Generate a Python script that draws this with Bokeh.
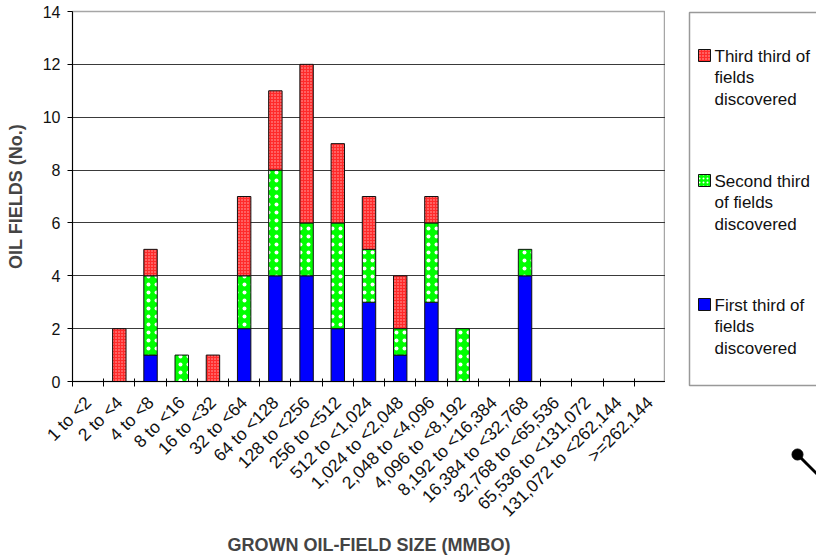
import math
from bokeh.plotting import figure
from bokeh.models import (ColumnDataSource, Range1d, FixedTicker, CustomJSTickFormatter)
from bokeh.core.properties import value
from bokeh.transform import stack
from bokeh.layouts import row
from bokeh.embed import file_html
from bokeh.resources import INLINE

# ---------------- data ----------------
categories = ["1 to <2", "2 to <4", "4 to <8", "8 to <16", "16 to <32", "32 to <64",
              "64 to <128", "128 to <256", "256 to <512", "512 to <1,024",
              "1,024 to <2,048", "2,048 to <4,096", "4,096 to <8,192",
              "8,192 to <16,384", "16,384 to <32,768", "32,768 to <65,536",
              "65,536 to <131,072", "131,072 to <262,144", ">=262,144"]
first_third = [0, 0, 1, 0, 0, 2, 4, 4, 2, 3, 1, 3, 0, 0, 4, 0, 0, 0, 0]
second_third = [0, 0, 3, 1, 0, 2, 4, 2, 4, 2, 1, 3, 2, 0, 1, 0, 0, 0, 0]
third_third = [0, 2, 1, 0, 1, 3, 3, 6, 3, 2, 2, 1, 0, 0, 0, 0, 0, 0, 0]
series_keys = ["first", "second", "third"]
series_labels = ["First third of\nfields\ndiscovered",
                 "Second third\nof fields\ndiscovered",
                 "Third third of\nfields\ndiscovered"]
y_ticks = [0, 2, 4, 6, 8, 10, 12, 14]
x_title = "GROWN OIL-FIELD SIZE (MMBO)"
y_title = "OIL FIELDS (No.)"

FONT = "Liberation Sans"
EDGE = "#111111"
styles = {
    "first": dict(fill_color="#0000ff", hatch_pattern=None),
    "second": dict(fill_color="#00ff00", hatch_pattern="dot", hatch_color="#ffffff",
                   hatch_scale=8, hatch_weight=1.2),
    "third": dict(fill_color="#ff2a2a", hatch_pattern="dot", hatch_color="#ffb4b4",
                  hatch_scale=3, hatch_weight=1),
}

n = len(categories)
data = dict(x=[i + 0.5 for i in range(n)], cat=categories,
            first=first_third, second=second_third, third=third_third)
# no outline on empty (zero-height) segments
for key in series_keys:
    data[key + "_edge"] = [EDGE if v > 0 else "rgba(0,0,0,0)" for v in data[key]]
src = ColumnDataSource(data)

p = figure(width=665, height=557, x_range=Range1d(0, n), y_range=Range1d(0, 14),
           toolbar_location=None, output_backend="svg",
           min_border_left=72, min_border_right=0, min_border_top=11,
           min_border_bottom=175)
p.frame_align = False
p.background_fill_color = "white"
p.border_fill_color = "white"
p.outline_line_color = "#a6a6a6"
p.outline_line_width = 1.5

for k, key in enumerate(series_keys):
    st = dict(styles[key])
    hp = st.pop("hatch_pattern")
    kw = dict(x="x", width=0.43, bottom=stack(*series_keys[:k]),
              top=stack(*series_keys[:k + 1]), source=src,
              line_color=key + "_edge", line_width=1)
    if hp:
        kw["hatch_pattern"] = hp
    kw.update(st)
    p.vbar(**kw)

# y axis
p.yaxis.ticker = FixedTicker(ticks=y_ticks)
p.yaxis.major_tick_in = 0
p.yaxis.major_tick_out = 5
p.yaxis.minor_tick_line_color = None
p.yaxis.major_label_standoff = 7
p.yaxis.major_label_text_font = FONT
p.yaxis.major_label_text_font_size = "16px"
p.yaxis.major_label_text_color = "#111111"
p.yaxis.axis_line_color = "black"
p.yaxis.axis_label = y_title
p.yaxis.axis_label_text_font = FONT
p.yaxis.axis_label_text_font_style = "bold"
p.yaxis.axis_label_text_font_size = "18px"
p.yaxis.axis_label_standoff = 14

# x axis: labels at centres, ticks at boundaries (minor)
p.xaxis.ticker = FixedTicker(ticks=[i + 0.5 for i in range(n)],
                             minor_ticks=list(range(n + 1)))
p.xaxis.formatter = CustomJSTickFormatter(args=dict(labels=categories),
                                          code="return labels[Math.round(tick - 0.5)] || '';")
p.xaxis.major_tick_in = 0
p.xaxis.major_tick_out = 0
p.xaxis.minor_tick_in = 3
p.xaxis.minor_tick_out = 5
p.xaxis.minor_tick_line_color = "black"
p.xaxis.major_label_orientation = math.pi / 4
p.xaxis.major_label_standoff = 13
p.xaxis.major_label_text_font = FONT
p.xaxis.major_label_text_font_size = "17.5px"
p.xaxis.major_label_text_color = "#111111"
p.xaxis.axis_line_color = "black"
p.xaxis.axis_label = x_title
p.xaxis.axis_label_text_font = FONT
p.xaxis.axis_label_text_font_style = "bold"
p.xaxis.axis_label_text_font_size = "18px"
p.xaxis.axis_label_standoff = 4

p.xgrid.visible = False
p.ygrid.ticker = FixedTicker(ticks=y_ticks[1:-1])
p.ygrid.grid_line_color = "#3a3a3a"
p.ygrid.grid_line_width = 1

# ---------------- legend panel ----------------
lf = figure(width=151, height=557, x_range=Range1d(0, 151), y_range=Range1d(557, 0),
            toolbar_location=None, output_backend="svg", x_axis_type=None,
            y_axis_type=None, min_border=0)
lf.frame_align = False
lf.outline_line_color = None
lf.grid.visible = False
lf.border_fill_color = "white"
lf.background_fill_color = "white"

lf.quad(left=[24], right=[200], top=[12], bottom=[385], fill_color=None,
        line_color="#999999", line_width=1.5)

order = ["third", "second", "first"]
label_of = dict(zip(series_keys, series_labels))
sw_y = [55, 180, 304]
for key, yy in zip(order, sw_y):
    st = dict(styles[key])
    hp = st.pop("hatch_pattern")
    kw = dict(left=[33], right=[45], top=[yy - 6], bottom=[yy + 6],
              line_color=EDGE, line_width=1)
    if hp:
        kw["hatch_pattern"] = hp
        st["hatch_scale"] = min(st["hatch_scale"], 4)
    kw.update(st)
    lf.quad(**kw)
    lf.text(x=[49], y=[yy - 9], text=[label_of[key]], text_font=value(FONT),
            text_font_size="17px", text_baseline="top", text_align="left",
            text_color="#111111", text_line_height=1.15)

# small pointer decoration in the lower right corner
lf.segment(x0=[132], y0=[454], x1=[160], y1=[482], line_color="black", line_width=3)
lf.scatter(x=[132], y=[454], size=11, color="black")

layout = row(p, lf, spacing=0)
open("out.html", "w").write(file_html(layout, INLINE))
